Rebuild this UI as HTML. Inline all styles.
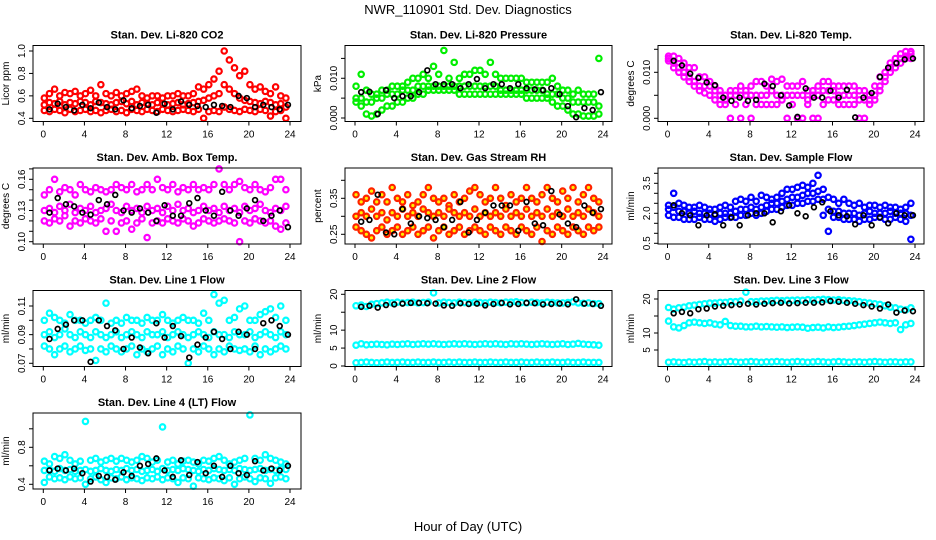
<!DOCTYPE html>
<html><head><meta charset="utf-8">
<style>
html,body{margin:0;padding:0;background:#fff;}
svg{display:block;font-family:"Liberation Sans",sans-serif;}
</style></head>
<body>
<svg id="chart" width="936" height="540" viewBox="0 0 936 540" xmlns="http://www.w3.org/2000/svg">
<rect width="936" height="540" fill="#fff"/>
<text x="468" y="14" text-anchor="middle" font-size="13">NWR_110901  Std. Dev. Diagnostics</text>
<text x="468" y="531" text-anchor="middle" font-size="13">Hour of Day (UTC)</text>
</svg>
<script>
// ---- data (hours: colored every 0.5h, black every 0.8h from 0.6) ----
const xTicks = [0,4,8,12,16,20,24];
const xTickLabels = ["0","4","8","12","16","20","24"];

const co2Hi = [0.58,0.62,0.66,0.6,0.63,0.62,0.64,0.6,0.62,0.65,0.6,0.7,0.62,0.6,0.63,0.6,0.62,0.64,0.66,0.6,0.58,0.6,0.6,0.58,0.6,0.6,0.62,0.6,0.6,0.62,0.68,0.66,0.7,0.75,0.82,1.0,0.92,0.85,0.78,0.82,0.7,0.66,0.68,0.64,0.62,0.68,0.6,0.58];
const co2Mid = [0.52,0.54,0.53,0.55,0.52,0.54,0.53,0.55,0.54,0.52,0.55,0.54,0.53,0.52,0.54,0.55,0.53,0.55,0.52,0.54,0.53,0.52,0.54,0.53,0.52,0.53,0.54,0.52,0.53,0.54,0.55,0.56,0.58,0.6,0.62,0.7,0.66,0.62,0.58,0.56,0.55,0.54,0.53,0.55,0.54,0.52,0.53,0.5];
const co2Lo = [0.47,0.46,0.48,0.47,0.45,0.48,0.46,0.47,0.48,0.46,0.47,0.45,0.47,0.48,0.46,0.47,0.45,0.48,0.47,0.46,0.48,0.47,0.46,0.48,0.47,0.46,0.47,0.48,0.47,0.46,0.48,0.4,0.46,0.47,0.46,0.5,0.48,0.47,0.46,0.48,0.47,0.46,0.48,0.47,0.42,0.46,0.47,0.4];
const co2Blk = [0.48,0.53,0.5,0.47,0.52,0.49,0.54,0.5,0.48,0.56,0.49,0.51,0.52,0.45,0.53,0.48,0.55,0.52,0.51,0.5,0.52,0.51,0.5,0.6,0.58,0.5,0.52,0.5,0.48,0.52];

const prHi = [.008,.011,.007,.006,.006,.007,.007,.008,.008,.008,.009,.01,.01,.011,.01,.013,.011,.017,.01,.014,.01,.011,.011,.012,.012,.011,.014,.011,.01,.01,.01,.01,.01,.009,.009,.009,.009,.009,.01,.008,.007,.007,.006,.007,.006,.006,.006,.015];
const prMid = [.005,.005,.004,.004,.005,.005,.006,.006,.006,.007,.007,.007,.008,.008,.008,.008,.008,.008,.008,.008,.008,.008,.008,.008,.008,.008,.008,.008,.007,.007,.007,.007,.007,.007,.007,.007,.007,.006,.006,.006,.005,.005,.004,.004,.004,.004,.004,.003];
const prLo = [.004,.003,.001,.0005,.001,.002,.003,.003,.004,.004,.005,.005,.006,.006,.007,.007,.007,.007,.007,.007,.006,.006,.006,.006,.006,.006,.006,.006,.006,.006,.006,.006,.006,.005,.005,.005,.005,.005,.004,.003,.003,.002,.001,.001,.0005,.0005,.0005,.001];
const prBlk = [.0065,.0066,.001,.007,.005,.0055,.0055,.0065,.012,.0085,.0085,.0085,.0075,.0085,.0098,.0075,.0085,.0085,.0075,.0085,.0075,.0072,.007,.0075,.006,.003,.0002,.0025,.002,.0065];

const ltHi = [.0135,.0135,.013,.012,.011,.011,.009,.009,.008,.007,.006,.005,.006,.006,.007,.006,.007,.008,.008,.007,.0085,.008,.0085,.007,.007,.007,.008,.006,.006,.007,.008,.008,.007,.007,.007,.007,.007,.006,.006,.005,.007,.009,.01,.012,.013,.014,.0145,.0145];
const ltMid = [.013,.012,.011,.01,.009,.008,.007,.007,.007,.006,.005,.004,.005,.005,.005,.005,.005,.005,.005,.005,.006,.005,.005,.005,.005,.005,.005,.004,.005,.005,.006,.006,.006,.005,.005,.005,.005,.004,.004,.004,.005,.007,.009,.011,.012,.013,.0135,.014];
const ltLo = [.0125,.011,.01,.009,.008,.007,.006,.0055,.005,.004,.003,.003,0,.003,0,.003,0,.003,.003,.003,.003,.003,.004,0,.003,0,0,.003,0,0,.003,.004,.004,.003,.003,.003,.003,0,0,.003,.004,.006,.008,.01,.011,.012,.013,.013];
const ltBlk = [.0125,.0115,.0097,.0088,.0078,.0072,.0045,.0038,.0045,.0038,.004,.0075,.007,.005,.0028,.0003,.0065,.0045,.0045,.006,.0045,.0062,.0002,.0045,.0055,.009,.011,.012,.0128,.013];

const abHi = [.145,.15,.16,.148,.152,.15,.145,.155,.15,.148,.152,.15,.148,.15,.155,.152,.15,.155,.148,.15,.155,.15,.16,.152,.15,.155,.148,.152,.15,.155,.15,.152,.15,.155,.17,.155,.15,.155,.158,.152,.15,.155,.15,.148,.152,.16,.16,.15];
const abMid = [.13,.132,.128,.134,.13,.136,.128,.132,.13,.134,.128,.13,.132,.136,.13,.128,.134,.13,.132,.128,.134,.13,.132,.128,.134,.13,.136,.13,.132,.128,.13,.134,.13,.132,.128,.134,.13,.132,.128,.134,.13,.132,.136,.13,.128,.132,.13,.134];
const abLo = [.12,.118,.122,.12,.125,.115,.12,.118,.122,.12,.118,.122,.11,.12,.11,.118,.12,.112,.118,.122,.104,.118,.12,.118,.122,.12,.118,.122,.12,.115,.118,.122,.12,.118,.12,.122,.12,.118,.1,.12,.118,.122,.12,.118,.12,.115,.112,.118];
const abBlk = [.128,.142,.136,.134,.128,.126,.14,.136,.145,.13,.128,.132,.128,.12,.135,.125,.125,.137,.142,.13,.125,.148,.13,.125,.132,.14,.12,.125,.13,.114];

const rhHi = [.36,.34,.35,.37,.34,.36,.34,.38,.35,.34,.36,.33,.34,.36,.38,.35,.34,.35,.33,.36,.34,.35,.37,.38,.36,.34,.35,.38,.35,.33,.36,.34,.35,.38,.35,.34,.36,.38,.35,.34,.37,.35,.38,.34,.36,.38,.35,.34];
const rhMid = [.3,.31,.3,.32,.3,.31,.29,.31,.3,.32,.3,.31,.3,.32,.31,.3,.31,.3,.32,.31,.3,.31,.3,.32,.3,.31,.3,.31,.3,.32,.3,.31,.3,.32,.3,.31,.3,.32,.3,.31,.3,.32,.3,.31,.3,.32,.31,.3];
const rhLo = [.27,.26,.25,.24,.26,.27,.25,.26,.27,.25,.26,.27,.25,.26,.27,.24,.26,.27,.25,.26,.27,.25,.26,.27,.26,.25,.27,.26,.25,.27,.26,.25,.27,.26,.25,.27,.23,.26,.25,.27,.26,.25,.27,.26,.25,.27,.26,.27];
const rhBlk = [.285,.29,.36,.255,.25,.32,.28,.3,.295,.29,.27,.29,.34,.255,.29,.31,.33,.33,.33,.26,.34,.28,.275,.37,.305,.28,.27,.33,.31,.32];

const sfHi = [2.4,3.0,2.5,2.4,2.3,2.3,2.4,2.3,2.2,2.2,2.3,2.4,2.3,2.6,2.7,2.6,2.8,2.6,2.9,2.8,2.7,2.8,3.0,3.2,3.2,3.3,3.4,3.3,3.5,3.9,3.2,2.8,2.7,2.5,2.7,2.5,2.4,2.5,2.3,2.4,2.4,2.3,2.4,2.3,2.3,2.2,2.3,2.5];
const sfMid = [2.2,2.3,2.1,2.1,2.0,2.1,2.0,2.0,2.0,1.9,2.0,2.0,2.0,2.1,2.2,2.2,2.3,2.2,2.3,2.4,2.5,2.5,2.6,2.7,2.8,2.8,2.9,3.0,3.0,3.1,2.7,2.2,2.1,2.1,2.0,2.0,2.0,1.9,2.0,2.1,2.0,2.0,2.0,2.1,2.0,2.0,2.0,1.9];
const sfLo = [1.9,1.8,1.8,1.7,1.7,1.7,1.8,1.7,1.7,1.6,1.7,1.8,1.8,1.8,1.9,1.9,2.0,1.9,2.0,2.1,2.2,2.2,2.3,2.4,2.4,2.5,2.5,2.6,2.6,2.7,1.9,1.1,1.8,1.8,1.7,1.7,1.7,1.6,1.7,1.7,1.8,1.8,1.7,1.7,1.8,1.7,1.6,0.7];
const sfBlk = [2.4,2.0,1.9,1.4,1.9,1.95,1.4,1.8,1.4,1.9,2.0,2.0,1.55,2.1,2.4,2.0,1.85,2.3,2.55,2.1,1.9,1.85,1.45,1.9,1.4,1.8,1.5,2.0,1.9,1.9];

const l1Hi = [.1,.105,.102,.1,.098,.104,.1,.1,.098,.1,.102,.1,.112,.098,.1,.098,.102,.1,.1,.098,.102,.1,.1,.104,.1,.098,.1,.102,.1,.1,.098,.105,.1,.118,.112,.114,.1,.102,.108,.11,.1,.1,.104,.106,.108,.102,.11,.1];
const l1Mid = [.09,.092,.088,.09,.094,.09,.088,.092,.09,.088,.092,.09,.088,.09,.092,.088,.09,.092,.09,.088,.092,.09,.09,.092,.088,.09,.092,.09,.088,.09,.092,.09,.088,.092,.09,.09,.088,.092,.09,.09,.092,.088,.09,.092,.09,.088,.092,.09];
const l1Lo = [.082,.08,.076,.08,.082,.078,.08,.082,.079,.08,.072,.08,.078,.082,.08,.078,.08,.082,.076,.08,.078,.08,.082,.076,.08,.078,.082,.08,.07,.08,.078,.082,.08,.076,.08,.078,.082,.08,.079,.08,.078,.082,.076,.08,.078,.08,.082,.08];
const l1Blk = [.087,.094,.097,.1,.1,.071,.1,.096,.093,.08,.088,.081,.077,.098,.088,.096,.089,.074,.083,.088,.092,.087,.08,.092,.09,.08,.098,.1,.096,.09];

const l2Hi = [16.8,17.0,16.6,17.2,17.4,17.6,17.8,17.6,17.8,17.6,17.7,17.8,17.6,17.7,17.8,20.4,17.6,17.8,17.7,17.6,17.8,17.7,17.6,17.8,17.7,17.6,17.8,17.7,17.6,17.8,17.8,17.9,17.7,17.6,17.8,17.7,17.6,17.8,17.7,17.6,17.6,17.7,17.9,17.6,17.5,17.6,17.4,17.4];
const l2Mid = [5.8,6.2,5.9,6.0,6.1,6.0,5.9,6.1,6.0,6.1,6.2,6.0,6.1,6.2,6.1,6.2,6.1,6.0,6.1,6.2,6.1,6.2,6.1,6.0,6.1,6.2,6.1,6.2,6.1,6.0,6.2,6.1,6.2,6.1,6.0,6.1,6.2,6.1,6.0,6.1,6.2,6.0,6.1,6.3,6.1,6.0,5.9,5.8];
const l2Lo = [0.9,1.0,1.1,1.0,0.9,1.0,1.1,1.0,1.0,1.1,1.0,1.0,1.1,1.0,1.0,1.1,1.0,1.0,1.1,1.0,1.1,1.0,1.0,1.1,1.0,1.0,1.1,1.0,1.0,1.1,1.0,1.0,1.1,1.0,1.0,1.1,1.0,1.0,1.1,1.0,1.0,1.1,1.0,1.0,1.1,1.0,1.0,1.0];
const l2Blk = [16.5,16.8,16.3,17.0,17.2,17.4,17.6,17.6,17.5,17.4,16.9,16.8,17.5,17.3,17.4,16.9,17.3,17.6,17.2,17.3,17.6,17.5,17.2,17.3,17.4,17.2,18.6,17.4,17.3,16.8];

const l3Hi = [17.5,17.0,17.4,17.6,18.0,18.2,18.4,18.6,18.8,18.8,19.0,19.0,19.2,19.2,19.4,22.0,19.2,19.2,19.4,19.4,19.5,19.6,19.5,19.6,19.6,19.7,19.6,19.8,19.7,19.8,19.9,19.8,19.7,19.8,19.6,19.5,19.4,19.2,19.0,18.8,18.6,18.4,18.0,17.6,17.4,17.0,16.8,17.4];
const l3Mid = [13.5,11.8,11.5,12.2,13.0,13.2,13.0,12.8,13.0,12.6,12.4,13.4,12.2,12.0,12.0,11.8,11.8,12.0,11.8,11.9,11.8,11.7,11.8,11.6,11.7,11.8,11.7,11.4,11.6,11.7,11.5,11.8,11.6,11.7,11.9,12.0,12.2,12.4,12.6,12.8,13.0,13.2,13.0,12.8,13.0,11.0,12.4,12.8];
const l3Lo = [1.4,1.5,1.4,1.3,1.5,1.4,1.5,1.6,1.4,1.5,1.4,1.5,1.6,1.5,1.4,1.5,1.6,1.5,1.4,1.5,1.5,1.6,1.5,1.4,1.5,1.6,1.5,1.4,1.5,1.6,1.5,1.4,1.5,1.6,1.5,1.4,1.5,1.5,1.4,1.5,1.6,1.5,1.4,1.5,1.5,1.4,1.5,1.5];
const l3Blk = [15.8,16.2,15.8,17.0,17.2,17.8,18.0,18.2,18.4,18.6,18.4,18.6,18.8,18.9,18.7,18.8,18.9,18.9,19.0,19.4,19.2,18.9,18.6,18.2,17.8,17.2,18.4,16.0,16.6,16.4];

const l4Hi = [0.65,0.62,0.7,0.68,0.72,0.66,0.62,0.65,1.08,0.66,0.68,0.64,0.66,0.68,0.65,0.68,0.66,0.64,0.66,0.7,0.68,0.64,0.66,1.02,0.64,0.66,0.62,0.65,0.66,0.64,0.62,0.66,0.65,0.68,0.7,0.66,0.62,0.64,0.66,0.68,1.15,0.68,0.66,0.72,0.68,0.66,0.64,0.62];
const l4Mid = [0.55,0.56,0.54,0.57,0.55,0.56,0.54,0.55,0.56,0.54,0.55,0.57,0.55,0.54,0.56,0.55,0.57,0.55,0.56,0.54,0.55,0.56,0.54,0.57,0.55,0.56,0.55,0.57,0.56,0.55,0.54,0.56,0.55,0.57,0.56,0.55,0.56,0.55,0.57,0.56,0.55,0.56,0.57,0.55,0.56,0.55,0.57,0.56];
const l4Lo = [0.42,0.48,0.46,0.47,0.45,0.48,0.46,0.47,0.4,0.46,0.48,0.45,0.42,0.47,0.46,0.48,0.45,0.47,0.46,0.44,0.47,0.46,0.48,0.45,0.47,0.46,0.42,0.47,0.46,0.38,0.47,0.46,0.45,0.47,0.46,0.44,0.47,0.4,0.46,0.48,0.46,0.43,0.47,0.46,0.41,0.47,0.48,0.46];
const l4Blk = [0.55,0.57,0.55,0.57,0.52,0.43,0.49,0.48,0.45,0.53,0.49,0.6,0.62,0.68,0.55,0.48,0.66,0.5,0.64,0.52,0.6,0.48,0.6,0.52,0.5,0.65,0.55,0.57,0.55,0.6];

// ---- layout / rendering ----
const NS = "http://www.w3.org/2000/svg";
const svg = document.getElementById('chart');
function mk(tag, attrs, parent){ const e=document.createElementNS(NS,tag); for(const k in attrs) e.setAttribute(k,attrs[k]); (parent||svg).appendChild(e); return e; }

const colX = [{l:33,r:301,x0:43.3,x24:290},{l:345,r:612,x0:355,x24:603},{l:658,r:924,x0:667.5,x24:915}];
const rowTop = [45.5,168,290.5,413]; const boxH = 76;

const panels = [
 {name:"co2",title:"Stan. Dev. Li-820 CO2",ylab:"Licor ppm",c:0,r:0,col:"#ff0000",fill:"none",v0:0.4,p0:118.3,v1:1.0,p1:51,ticks:[0.4,0.6,0.8,1.0],tl:["0.4","0.6","0.8","1.0"],s:[co2Hi,co2Mid,co2Lo],b:co2Blk},
 {name:"pressure",title:"Stan. Dev. Li-820 Pressure",ylab:"kPa",c:1,r:0,col:"#00ee00",fill:"none",v0:0,p0:118,v1:0.015,p1:58.4,ticks:[0,0.005,0.01,0.015],tl:["0.000","","0.010",""],s:[prHi,prMid,prLo],b:prBlk},
 {name:"li820-temp",title:"Stan. Dev. Li-820 Temp.",ylab:"degrees C",c:2,r:0,col:"#ff00ff",fill:"none",v0:0,p0:118.3,v1:0.015,p1:49.3,ticks:[0,0.005,0.01,0.015],tl:["0.000","","0.010",""],s:[ltHi,ltMid,ltLo],b:ltBlk},
 {name:"amb-box-temp",title:"Stan. Dev. Amb. Box Temp.",ylab:"degrees C",c:0,r:1,col:"#ff00ff",fill:"none",v0:0.10,p0:241.7,v1:0.16,p1:179.3,ticks:[0.10,0.11,0.12,0.13,0.14,0.15,0.16,0.17],tl:["0.10","","","0.13","","","0.16",""],s:[abHi,abMid,abLo],b:abBlk},
 {name:"gas-stream-rh",title:"Stan. Dev. Gas Stream RH",ylab:"percent",c:1,r:1,col:"#ff2200",fill:"#ffee00",v0:0.25,p0:234.3,v1:0.35,p1:198.3,ticks:[0.25,0.30,0.35,0.40],tl:["0.25","","0.35",""],s:[rhHi,rhMid,rhLo],b:rhBlk},
 {name:"sample-flow",title:"Stan. Dev. Sample Flow",ylab:"ml/min",c:2,r:1,col:"#0000ff",fill:"none",v0:0.5,p0:243.3,v1:3.5,p1:183.3,ticks:[0.5,1,1.5,2,2.5,3,3.5,4],tl:["0.5","","","2.0","","","3.5",""],s:[sfHi,sfMid,sfLo],b:sfBlk},
 {name:"line1-flow",title:"Stan. Dev. Line 1 Flow",ylab:"ml/min",c:0,r:2,col:"#00ffff",fill:"none",v0:0.07,p0:363.3,v1:0.11,p1:306,ticks:[0.07,0.08,0.09,0.10,0.11],tl:["0.07","","0.09","","0.11"],s:[l1Hi,l1Mid,l1Lo],b:l1Blk},
 {name:"line2-flow",title:"Stan. Dev. Line 2 Flow",ylab:"ml/min",c:1,r:2,col:"#00ffff",fill:"none",v0:0,p0:366,v1:20,p1:294.3,ticks:[0,5,10,15,20],tl:["0","5","10","","20"],s:[l2Hi,l2Mid,l2Lo],b:l2Blk},
 {name:"line3-flow",title:"Stan. Dev. Line 3 Flow",ylab:"ml/min",c:2,r:2,col:"#00ffff",fill:"none",v0:5,p0:350,v1:20,p1:299,ticks:[5,10,15,20],tl:["5","10","","20"],s:[l3Hi,l3Mid,l3Lo],b:l3Blk},
 {name:"line4-flow",title:"Stan. Dev. Line 4 (LT) Flow",ylab:"ml/min",c:0,r:3,col:"#00ffff",fill:"none",v0:0.4,p0:484.3,v1:0.8,p1:447.3,ticks:[0.4,0.6,0.8,1.0],tl:["0.4","","0.8",""],s:[l4Hi,l4Mid,l4Lo],b:l4Blk}
];

panels.forEach(p=>{
  const C = colX[p.c], top=rowTop[p.r], bot=top+boxH;
  const xs = h => C.x0 + (C.x24-C.x0)*h/24;
  const ys = v => p.p0 + (v-p.v0)*(p.p1-p.p0)/(p.v1-p.v0);
  const g = mk('g',{});
  
  
  const t = mk('text',{x:(C.l+C.r)/2,y:top-7,'text-anchor':'middle','font-size':'11','font-weight':'bold'},g);
  t.textContent=p.title;
  
  
  const yl = mk('text',{x:C.l-24,y:(top+bot)/2,'text-anchor':'middle','font-size':'10',transform:`rotate(-90 ${C.l-24} ${(top+bot)/2})`},g);
  yl.textContent=p.ylab;
  
  
  const pts = mk('g',{},g);
  
  
  p.s.forEach(arr=>arr.forEach((v,i)=>{
    const c = mk('circle',{cx:xs(i*0.5+0.1),cy:ys(v),r:2.7,fill:p.fill,stroke:p.col,'stroke-width':2.2},pts);
    
    
  }));
  const bk = mk('g',{},g);
  
  
  p.b.forEach((v,i)=>{
    const c = mk('circle',{cx:xs(0.6+i*0.8),cy:ys(v),r:2.4,fill:'none',stroke:'#000','stroke-width':1.7},bk);
    
    
  });
  const bx = mk('rect',{x:C.l,y:top,width:C.r-C.l,height:boxH,fill:'none',stroke:'#000','stroke-width':1},g);
  
  
  const xa = mk('g',{},g);
  
  
  xTicks.forEach((h,i)=>{
    mk('line',{x1:xs(h),x2:xs(h),y1:bot,y2:bot+4,stroke:'#000'},xa);
    const tx = mk('text',{x:xs(h),y:bot+16,'text-anchor':'middle','font-size':'10'},xa);
    tx.textContent = xTickLabels[i];
  });
  const ya = mk('g',{},g);
  
  
  p.ticks.forEach((v,i)=>{
    const y=ys(v);
    mk('line',{x1:C.l-4,x2:C.l,y1:y,y2:y,stroke:'#000'},ya);
    if(p.tl[i]){
      const tx = mk('text',{x:C.l-8,y:y,'text-anchor':'middle','font-size':'10',transform:`rotate(-90 ${C.l-8} ${y})`},ya);
      tx.textContent=p.tl[i];
    }
  });
});
</script>
</body></html>
